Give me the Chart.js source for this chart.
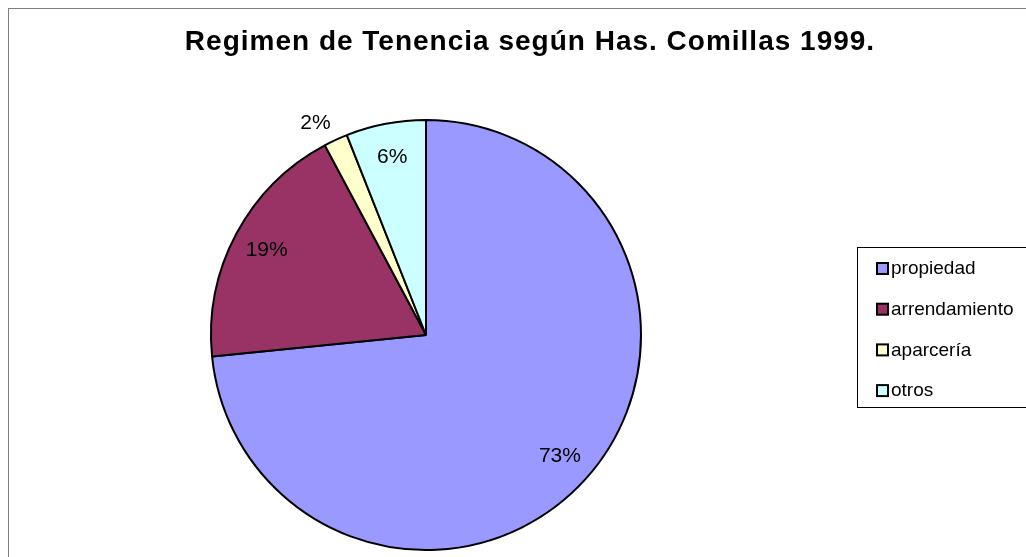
<!DOCTYPE html>
<html>
<head>
<meta charset="utf-8">
<script src="https://cdn.jsdelivr.net/npm/chart.js@4"></script>
<style>
  html, body { margin: 0; padding: 0; background: #fff; }
  #wrap { width: 1026px; height: 557px; position: relative; }
</style>
</head>
<body>
<div id="wrap"><canvas id="pie-chart"></canvas></div>
<script>
const titleText = 'Regimen de Tenencia según Has. Comillas 1999.';
const categories = ['propiedad', 'arrendamiento', 'aparcería', 'otros'];
const shares = [73.4, 18.8, 1.8, 6.0];
const colors = ['#9999FF', '#993366', '#FFFFCC', '#CCFFFF'];

const FONT = '"Liberation Sans", Arial, sans-serif';
const total = shares.reduce((a, b) => a + b, 0);

// frame, title, slice labels and legend box are drawn by hand
const excelLook = {
  id: 'excelLook',
  afterDraw(chart) {
    const ctx = chart.ctx;
    ctx.save();
    // outer frame
    ctx.strokeStyle = '#808080';
    ctx.lineWidth = 1;
    ctx.strokeRect(8.5, 8.5, 1100, 600);

    // title
    ctx.fillStyle = '#000';
    ctx.font = 'bold 28px ' + FONT;
    ctx.letterSpacing = '1px';
    ctx.textAlign = 'center';
    ctx.textBaseline = 'alphabetic';
    ctx.fillText(titleText, 530, 50);

    // percentage labels
    ctx.font = '21px ' + FONT;
    ctx.letterSpacing = '0px';
    ctx.textBaseline = 'middle';
    const arcs = chart.getDatasetMeta(0).data;
    arcs.forEach((arc, i) => {
      const mid = (arc.startAngle + arc.endAngle) / 2;
      const pct = shares[i] / total * 100;
      const txt = Math.round(pct) + '%';
      if (pct < 3) {
        // small slice: label sits outside, above-left of the edge
        const ex = arc.x + Math.cos(mid) * arc.outerRadius;
        const ey = arc.y + Math.sin(mid) * arc.outerRadius;
        ctx.textAlign = 'right';
        ctx.textBaseline = 'bottom';
        ctx.fillText(txt, ex - 5, ey - 6);
        ctx.textAlign = 'center';
        ctx.textBaseline = 'middle';
      } else {
        const dist = arc.outerRadius * 0.84;
        ctx.fillText(txt, arc.x + Math.cos(mid) * dist, arc.y + Math.sin(mid) * dist);
      }
    });

    // legend
    ctx.strokeStyle = '#000';
    ctx.lineWidth = 1;
    ctx.strokeRect(857.5, 247.5, 300, 160);
    ctx.font = '19px ' + FONT;
    ctx.textAlign = 'left';
    categories.forEach((c, i) => {
      const y = 268 + i * 40.7;
      ctx.fillStyle = colors[i];
      ctx.fillRect(877, y - 5, 11, 11);
      ctx.lineWidth = 2;
      ctx.strokeRect(877, y - 5, 11, 11);
      ctx.fillStyle = '#000';
      ctx.fillText(c, 891, y + 1);
    });
    ctx.restore();
  }
};

new Chart(document.getElementById('pie-chart'), {
  type: 'pie',
  data: {
    labels: categories,
    datasets: [{
      data: shares,
      backgroundColor: colors,
      borderColor: '#000',
      borderWidth: 2
    }]
  },
  options: {
    responsive: true,
    maintainAspectRatio: false,
    animation: false,
    layout: { padding: { left: 210, right: 384, top: 119, bottom: 6 } },
    plugins: {
      legend: { display: false },
      tooltip: { enabled: false }
    }
  },
  plugins: [excelLook]
});
</script>
</body>
</html>
